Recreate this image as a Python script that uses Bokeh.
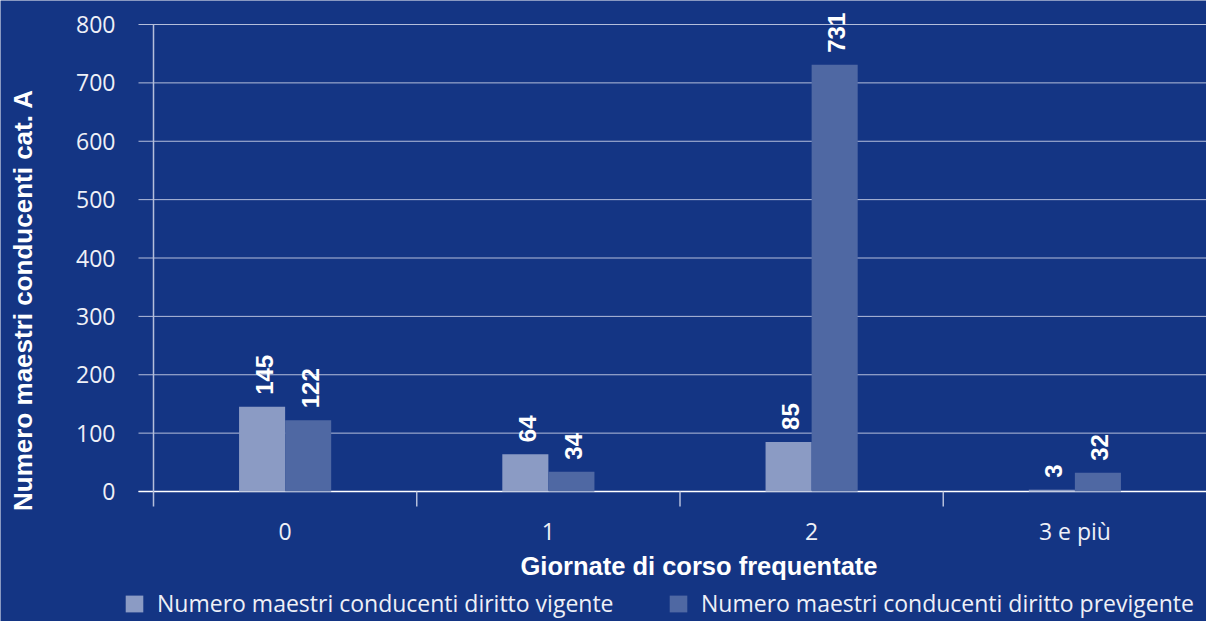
import math
from bokeh.plotting import figure
from bokeh.models import (ColumnDataSource, Range1d, LabelSet, Label, Legend, LegendItem)
from bokeh.transform import dodge
from bokeh.core.properties import value
from bokeh.embed import file_html
from bokeh.resources import INLINE

# ---------------- data ----------------
categories = ["0", "1", "2", "3 e più"]
vigente = [145, 64, 85, 3]
previgente = [122, 34, 731, 32]
series_names = ["Numero maestri conducenti diritto vigente",
                "Numero maestri conducenti diritto previgente"]
y_ticks = [0, 100, 200, 300, 400, 500, 600, 700, 800]
x_title = "Giornate di corso frequentate"
y_title = "Numero maestri conducenti cat. A"

# ---------------- style / layout ----------------
BG = "#143584"
C_LIGHT = "#8b9bc4"
C_DARK = "#4f68a3"
GRID = "#b4bedb"
TXT = "#eef0f7"
LIGHT_FONT = "Open Sans"
BOLD_FONT = "Liberation Sans"
BAR_W = 0.175
W, H = 1206, 621
LEFT = 153                                  # pixel position of the value axis
CAT_PX = (W - LEFT) / len(categories)       # pixels per category
PX_PER_UNIT = 467 / 800.0                   # vertical scale of the value axis
X0 = -LEFT / CAT_PX
Y_TOP = 800 + 24 / PX_PER_UNIT
Y_BOT = -(H - 491) / PX_PER_UNIT
AXIS_FLOOR = -15 / PX_PER_UNIT              # axis line / category ticks end here
TICK_X0 = -15 / CAT_PX                      # y ticks stick out 15px left of the axis

pos = [i + 0.5 for i in range(len(categories))]
src = ColumnDataSource(dict(
    pos=pos, cat=categories, vig=vigente, prev=previgente,
    vig_t=[str(v) for v in vigente], prev_t=[str(v) for v in previgente],
))
tick_src = ColumnDataSource(dict(y=y_ticks, t=[str(t) for t in y_ticks],
                                 x0=[TICK_X0] * len(y_ticks),
                                 x1=[len(categories)] * len(y_ticks),
                                 ax=[0] * len(y_ticks)))

p = figure(width=W, height=H, output_backend="svg", toolbar_location=None,
           x_range=Range1d(X0, len(categories)), y_range=Range1d(Y_BOT, Y_TOP),
           x_axis_location=None, y_axis_location=None,
           min_border_left=0, min_border_top=0, min_border_right=0, min_border_bottom=0)
p.background_fill_color = BG
p.border_fill_color = BG
p.outline_line_color = None
p.xgrid.visible = False
p.ygrid.visible = False

# horizontal grid lines (extend 15px left of the axis as ticks)
p.segment(x0="x0", y0="y", x1="x1", y1="y", source=tick_src, line_color=GRID, line_width=1)
# zero line
p.segment(x0=[TICK_X0], y0=[0], x1=[len(categories)], y1=[0], line_color="white", line_width=1.5)
# value axis line
p.segment(x0=[0], y0=[AXIS_FLOOR], x1=[0], y1=[y_ticks[-1]], line_color=GRID, line_width=1.5)
# category separator ticks
seps = list(range(1, len(categories)))
p.segment(x0=seps, y0=[0] * len(seps), x1=seps, y1=[AXIS_FLOOR] * len(seps),
          line_color=GRID, line_width=1.5)

# y tick labels
p.add_layout(LabelSet(x="ax", y="y", text="t", source=tick_src, x_offset=-38,
                      text_align="right", text_baseline="middle",
                      text_font=value(LIGHT_FONT), text_font_size="23px", text_color=TXT))

# bars
r1 = p.vbar(x=dodge("pos", -BAR_W / 2), top="vig", width=BAR_W,
            source=src, fill_color=C_LIGHT, line_color=None)
r2 = p.vbar(x=dodge("pos", BAR_W / 2), top="prev", width=BAR_W,
            source=src, fill_color=C_DARK, line_color=None)

# category labels (aligned on a common baseline)
p.add_layout(LabelSet(x="pos", y=AXIS_FLOOR, text="cat", source=src,
                      text_align="center", text_baseline="alphabetic", y_offset=-33,
                      text_font=value(LIGHT_FONT), text_font_size="23px",
                      text_color=TXT))

# value labels
for col, off in (("vig", -BAR_W / 2), ("prev", BAR_W / 2)):
    p.add_layout(LabelSet(x=dodge("pos", off), y=col, text=col + "_t",
                          source=src, angle=math.pi / 2, text_align="left",
                          text_baseline="middle", y_offset=12, x_offset=2,
                          text_font=value(BOLD_FONT), text_font_style="bold",
                          text_font_size="24px", text_color="white"))

# axis titles
p.add_layout(Label(x=22, y=H - 299.5, x_units="screen", y_units="screen",
                   text=y_title, angle=math.pi / 2, text_align="center",
                   text_baseline="middle", text_font=BOLD_FONT, text_font_style="bold",
                   text_font_size="26px", text_color="white"))
p.add_layout(Label(x=698.5, y=H - 565, x_units="screen", y_units="screen",
                   text=x_title, text_align="center", text_baseline="middle",
                   text_font=BOLD_FONT, text_font_style="bold",
                   text_font_size="25.5px", text_color="white"))

# legends
for r, name, lx in ((r1, series_names[0], 123), (r2, series_names[1], 667)):
    lg = Legend(items=[LegendItem(label=name, renderers=[r])], location=(lx, 2),
                orientation="horizontal", glyph_width=22, glyph_height=21,
                label_height=21, label_standoff=12, padding=0, margin=0,
                border_line_color=None, background_fill_alpha=0,
                label_text_font=LIGHT_FONT, label_text_font_size="23px",
                label_text_color=TXT)
    p.add_layout(lg, "center")

open("out.html", "w").write(file_html(p, INLINE))
